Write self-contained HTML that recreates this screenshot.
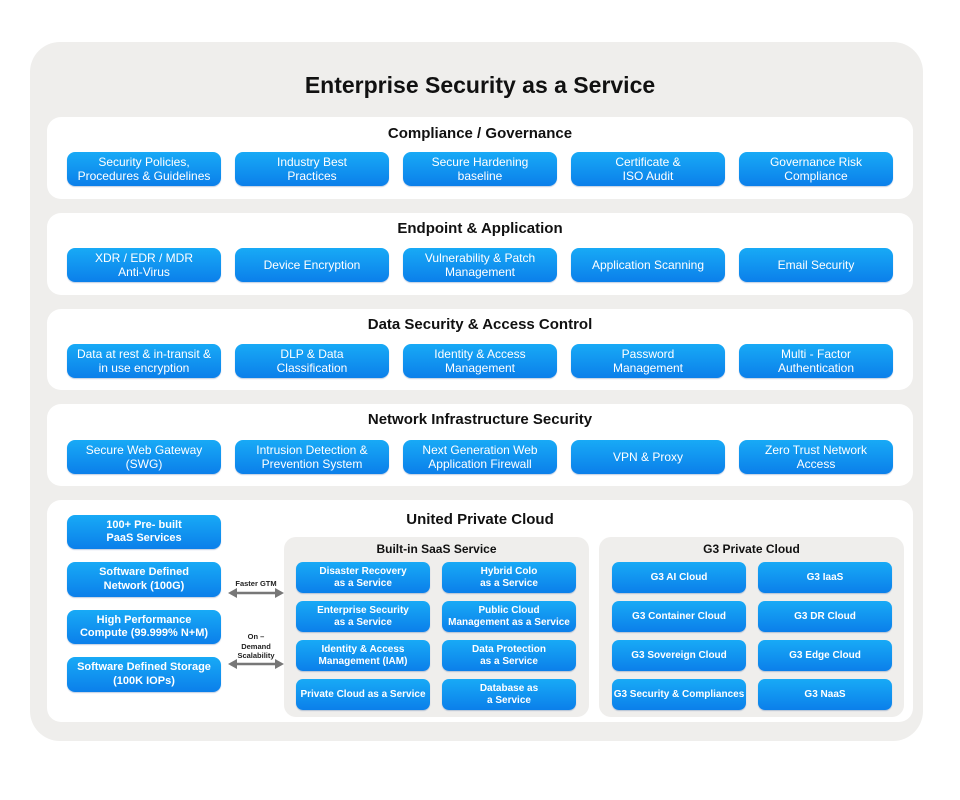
<!DOCTYPE html>
<html><head><meta charset="utf-8"><style>
*{margin:0;padding:0;box-sizing:border-box}
body{width:960px;height:800px;background:#fff;position:relative;font-family:"Liberation Sans",Arial,sans-serif;overflow:hidden}
.a{position:absolute}
.outer{left:30px;top:42px;width:893px;height:699px;background:#efeeec;border-radius:30px}
.sec{background:#fff;border-radius:14px;left:47px;width:866px}
.t{position:absolute;left:0;width:100%;text-align:center;font-weight:bold;color:#111}
.b{position:absolute;display:flex;align-items:center;justify-content:center;text-align:center;color:#fff;border-radius:8px;background:linear-gradient(#18aaf6,#0b7fea);font-size:12px;line-height:14px;box-shadow:0 1px 1px rgba(0,60,140,.25)}
.s{font-weight:bold;font-size:10px;line-height:12px;border-radius:7px}
.l{font-weight:bold;font-size:11px;line-height:13.5px}
.g{background:#efeeec;border-radius:12px}
.lab{position:absolute;font-size:7.5px;font-weight:bold;text-align:center;color:#222;line-height:9.5px}
</style></head><body>
<div class="a outer"></div>
<div class="a" style="left:0;top:72px;width:960px;text-align:center;font-weight:bold;font-size:23px;color:#111">Enterprise Security as a Service</div>

<div class="a sec" style="top:117px;height:82px"></div>
<div class="a sec" style="top:213px;height:82px"></div>
<div class="a sec" style="top:309px;height:81px"></div>
<div class="a sec" style="top:404px;height:82px"></div>
<div class="a sec" style="top:500px;height:222px"></div>

<div class="a" style="left:47px;width:866px;top:125px"><div class="t" style="font-size:15px">Compliance / Governance</div></div>
<div class="a" style="left:47px;width:866px;top:220px"><div class="t" style="font-size:15px">Endpoint &amp; Application</div></div>
<div class="a" style="left:47px;width:866px;top:316px"><div class="t" style="font-size:15px">Data Security &amp; Access Control</div></div>
<div class="a" style="left:47px;width:866px;top:411px"><div class="t" style="font-size:15px">Network Infrastructure Security</div></div>
<div class="a" style="left:47px;width:866px;top:511px"><div class="t" style="font-size:15px">United Private Cloud</div></div>

<div class="b" style="left:67px;top:152px;width:154px;height:34px">Security Policies,<br>Procedures &amp; Guidelines</div>
<div class="b" style="left:235px;top:152px;width:154px;height:34px">Industry Best<br>Practices</div>
<div class="b" style="left:403px;top:152px;width:154px;height:34px">Secure Hardening<br>baseline</div>
<div class="b" style="left:571px;top:152px;width:154px;height:34px">Certificate &amp;<br>ISO Audit</div>
<div class="b" style="left:739px;top:152px;width:154px;height:34px">Governance Risk<br>Compliance</div>
<div class="b" style="left:67px;top:248px;width:154px;height:34px">XDR / EDR / MDR<br>Anti-Virus</div>
<div class="b" style="left:235px;top:248px;width:154px;height:34px">Device Encryption</div>
<div class="b" style="left:403px;top:248px;width:154px;height:34px">Vulnerability &amp; Patch<br>Management</div>
<div class="b" style="left:571px;top:248px;width:154px;height:34px">Application Scanning</div>
<div class="b" style="left:739px;top:248px;width:154px;height:34px">Email Security</div>
<div class="b" style="left:67px;top:344px;width:154px;height:34px">Data at rest &amp; in-transit &amp;<br>in use encryption</div>
<div class="b" style="left:235px;top:344px;width:154px;height:34px">DLP &amp; Data<br>Classification</div>
<div class="b" style="left:403px;top:344px;width:154px;height:34px">Identity &amp; Access<br>Management</div>
<div class="b" style="left:571px;top:344px;width:154px;height:34px">Password<br>Management</div>
<div class="b" style="left:739px;top:344px;width:154px;height:34px">Multi - Factor<br>Authentication</div>
<div class="b" style="left:67px;top:440px;width:154px;height:34px">Secure Web Gateway<br>(SWG)</div>
<div class="b" style="left:235px;top:440px;width:154px;height:34px">Intrusion Detection &amp;<br>Prevention System</div>
<div class="b" style="left:403px;top:440px;width:154px;height:34px">Next Generation Web<br>Application Firewall</div>
<div class="b" style="left:571px;top:440px;width:154px;height:34px">VPN &amp; Proxy</div>
<div class="b" style="left:739px;top:440px;width:154px;height:34px">Zero Trust Network<br>Access</div>

<div class="b l" style="left:67px;top:515px;width:154px;height:34px">100+ Pre- built<br>PaaS Services</div>
<div class="b l" style="left:67px;top:562px;width:154px;height:35px">Software Defined<br>Network (100G)</div>
<div class="b l" style="left:67px;top:610px;width:154px;height:34px">High Performance<br>Compute (99.999% N+M)</div>
<div class="b l" style="left:67px;top:657px;width:154px;height:35px">Software Defined Storage<br>(100K IOPs)</div>

<div class="lab" style="left:226px;top:579px;width:60px">Faster GTM</div>
<div class="lab" style="left:226px;top:632px;width:60px">On –<br>Demand<br>Scalability</div>
<svg class="a" style="left:226px;top:585px" width="60" height="90">
<g fill="#777" stroke="#777">
<line x1="8" y1="8" x2="52" y2="8" stroke-width="2.5"/>
<polygon points="2,8 11,3 11,13" stroke="none"/>
<polygon points="58,8 49,3 49,13" stroke="none"/>
<line x1="8" y1="79" x2="52" y2="79" stroke-width="2.5"/>
<polygon points="2,79 11,74 11,84" stroke="none"/>
<polygon points="58,79 49,74 49,84" stroke="none"/>
</g></svg>

<div class="a g" style="left:284px;top:537px;width:305px;height:180px"></div>
<div class="a" style="left:284px;top:542px;width:305px;text-align:center;font-weight:bold;font-size:12px;color:#111">Built-in SaaS Service</div>
<div class="b s" style="left:296px;top:562px;width:134px;height:31px">Disaster Recovery<br>as a Service</div>
<div class="b s" style="left:442px;top:562px;width:134px;height:31px">Hybrid Colo<br>as a Service</div>
<div class="b s" style="left:296px;top:601px;width:134px;height:31px">Enterprise Security<br>as a Service</div>
<div class="b s" style="left:442px;top:601px;width:134px;height:31px">Public Cloud<br>Management as a Service</div>
<div class="b s" style="left:296px;top:640px;width:134px;height:31px">Identity &amp; Access<br>Management (IAM)</div>
<div class="b s" style="left:442px;top:640px;width:134px;height:31px">Data Protection<br>as a Service</div>
<div class="b s" style="left:296px;top:679px;width:134px;height:31px">Private Cloud as a Service</div>
<div class="b s" style="left:442px;top:679px;width:134px;height:31px">Database as<br>a Service</div>

<div class="a g" style="left:599px;top:537px;width:305px;height:180px"></div>
<div class="a" style="left:599px;top:542px;width:305px;text-align:center;font-weight:bold;font-size:12px;color:#111">G3 Private Cloud</div>
<div class="b s" style="left:612px;top:562px;width:134px;height:31px">G3 AI Cloud</div>
<div class="b s" style="left:758px;top:562px;width:134px;height:31px">G3 IaaS</div>
<div class="b s" style="left:612px;top:601px;width:134px;height:31px">G3 Container Cloud</div>
<div class="b s" style="left:758px;top:601px;width:134px;height:31px">G3 DR Cloud</div>
<div class="b s" style="left:612px;top:640px;width:134px;height:31px">G3 Sovereign Cloud</div>
<div class="b s" style="left:758px;top:640px;width:134px;height:31px">G3 Edge Cloud</div>
<div class="b s" style="left:612px;top:679px;width:134px;height:31px">G3 Security &amp; Compliances</div>
<div class="b s" style="left:758px;top:679px;width:134px;height:31px">G3 NaaS</div>
</body></html>
